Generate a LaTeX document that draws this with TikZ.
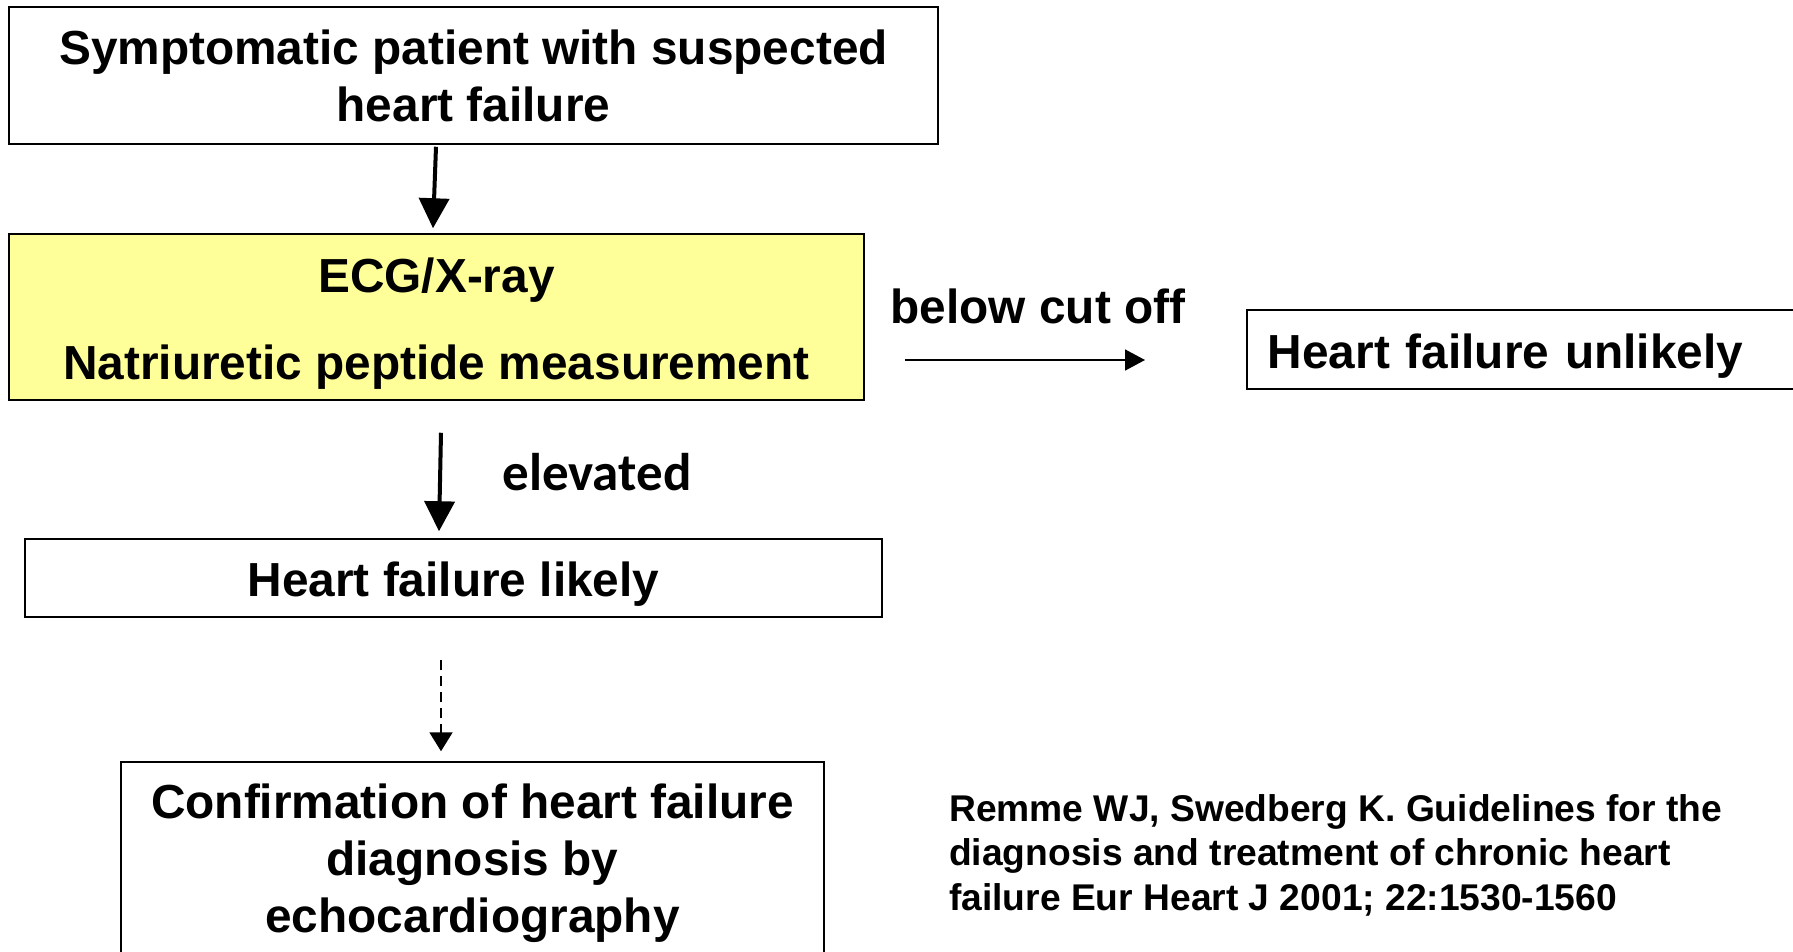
\documentclass[tikz,border=0pt]{standalone}
\usepackage{fontspec}
\setmainfont{Liberation Sans}
\newfontfamily\calibri{Carlito}
\usetikzlibrary{arrows.meta,calc,positioning}

\newcommand{\tallstrut}[1]{\rule{0pt}{#1}}

\begin{document}
\begin{tikzpicture}[x=1pt,y=-1pt,
                    box/.style={draw,line width=1.5pt,inner sep=0pt,align=center,
                                font=\fontsize{47.8}{57}\selectfont\bfseries},
                    bigarrow/.style={line width=4pt,-{Triangle[length=30pt,width=30pt]}},
                    thinarrow/.style={line width=1.5pt,-{Triangle[length=20pt,width=21pt]}},
                    dasharrow/.style={line width=2pt,dash pattern=on 10pt off 6pt,
                                      -{Triangle[length=19pt,width=23pt]}}]

  \tikzstyle{cite} = [align=left,inner sep=0pt,font=\fontsize{37.2}{44.6}\selectfont\bfseries]
  \useasboundingbox (0,0) rectangle (1793,951);

  \node[box, minimum width=929pt, minimum height=137pt] (sympt)    at (473.5,75.5)
        {Symptomatic patient with suspected\\heart failure};
  \node[box, minimum width=855pt, minimum height=166pt, fill={rgb,255:red,255;green,255;blue,153}]
        (ecg)      at (436.5,317)   {\tallstrut{47pt}ECG/X-ray\\[30pt]Natriuretic peptide measurement};
  \node[box, anchor=west, text width=519pt, inner xsep=21pt, minimum height=79pt, align=left]
        (unlikely) at (1246,349.5)  {\tallstrut{47pt}Heart failure unlikely};
  \node[box, minimum width=857pt, minimum height=78pt] (likely)   at (453.5,578)
        {\tallstrut{47pt}Heart failure likely};
  \node[box, minimum width=703pt, minimum height=196pt] (confirm)  at (472.5,860)
        {\tallstrut{41pt}Confirmation of heart failure\\diagnosis by\\echocardiography};

  \node[inner sep=0pt, font=\fontsize{47.8}{57}\selectfont\bfseries] (cutoff) at (1038,306) {below cut off};
  \node[inner sep=0pt, font=\fontsize{53}{60}\selectfont\calibri\bfseries] (elev) at (597,472) {elevated};
  \node[cite, anchor=west] (remme) at (949,855)
        {Remme WJ, Swedberg K. Guidelines for the\\diagnosis and treatment of chronic heart\\failure Eur Heart J 2001; 22:1530-1560};

  \path ($(sympt.south)+(-37.5,2)$)   edge[bigarrow]  ($(ecg.north)+(-3.5,-5)$)
        ($(ecg.south)+(4.5,32)$)      edge[bigarrow]  ($(likely.north)+(-14.5,-7)$)
        ($(ecg.east)+(40,43)$)        edge[thinarrow] ($(unlikely.west)+(-101,10.5)$)
        ($(likely.south)+(-12.5,42)$) edge[dasharrow] ($(confirm.north)+(-31.5,-10)$);

\end{tikzpicture}
\end{document}
